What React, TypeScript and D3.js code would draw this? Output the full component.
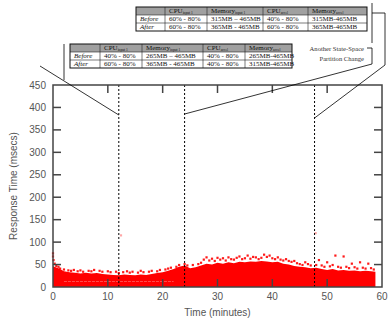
import React from "react";
import * as d3 from "d3";

// dense upper edge of the red scatter, one value per minute (msecs)
const minutes = d3.range(0, 60);
const envelope = [
  46, 42, 35, 33, 32, 30, 32, 30, 31, 29, 28, 27, 26, 28, 27, 26, 28, 27, 29, 31,
  33, 36, 40, 45, 48, 42, 44, 48, 52, 50, 54, 52, 55, 53, 56, 55, 57, 56, 58, 57,
  55, 56, 52, 50, 47, 45, 44, 42, 43, 40, 38, 40, 37, 38, 36, 37, 35, 36, 35, 34,
];
const lastMinute = 58.8;

// sparse points above the dense band [minute, msecs]
const outliers: [number, number][] = [
  [0, 75], [0, 68], [0.1, 60], [0.3, 52], [0.6, 47], [1, 45], [1.3, 41], [2, 39],
  [2.8, 37], [3.3, 36], [3.8, 38], [4.5, 35], [5, 37], [5.5, 34], [6.5, 36],
  [7, 35], [7.5, 38], [8.5, 36], [9, 34], [10, 35], [10.5, 33], [11.5, 34],
  [12, 31], [12.8, 33], [13.5, 35], [14, 32], [14.5, 34], [15.5, 32], [16, 36],
  [16.5, 33], [17.5, 34], [18, 36], [19, 35], [19.5, 38], [20.5, 39], [21, 41],
  [21.5, 43], [22.5, 45], [23, 49], [24, 51], [24.5, 48], [25.5, 49], [26.5, 51],
  [27, 54], [27.5, 61], [28, 66], [28.5, 59], [29, 63], [29.5, 58], [30, 65],
  [30.5, 61], [31, 64], [31.5, 59], [32, 66], [32.5, 62], [33, 61], [33.5, 65],
  [34, 68], [34.5, 62], [35, 64], [35.5, 70], [36, 63], [36.5, 67], [37, 66],
  [37.5, 62], [38, 65], [38.5, 72], [39, 67], [39.5, 70], [40, 64], [40.5, 62],
  [41, 66], [41.5, 61], [42, 59], [42.5, 62], [43, 58], [43.5, 56], [44, 58],
  [44.5, 53], [45, 51], [45.5, 49], [46, 55], [46.5, 51], [47, 48], [48, 49],
  [48.5, 60], [49, 48], [49.5, 45], [50, 55], [50.5, 46], [51, 49], [51.5, 70],
  [52, 45], [52.5, 43], [53, 68], [53.5, 45], [54, 42], [54.5, 52], [55, 44],
  [55.5, 41], [56, 55], [56.5, 43], [57, 41], [57.5, 52], [58, 42], [58.5, 39],
  [12.4, 115], [47.9, 120],
];

const changes = [12, 24, 47.7];
const xTicks = [0, 10, 20, 30, 40, 50, 60];
const yTicks = [0, 50, 100, 150, 200, 250, 300, 350, 400, 450];

const headers = ["", "CPU", "Memory", "CPU", "Memory"];
const subs = ["", "input 1", "input 1", "accel", "accel"];
const rowNames = ["Before", "After"];
const table1 = [
  ["60% - 80%", "315MB – 465MB", "40% - 80%", "315MB-465MB"],
  ["60% - 80%", "365MB - 465MB", "60% - 80%", "365MB-465MB"],
];
const table2 = [
  ["40% - 80%", "265MB – 465MB", "40% - 80%", "265MB-465MB"],
  ["60% - 80%", "365MB - 465MB", "40% - 80%", "315MB-465MB"],
];

const W = 390, H = 322;
const x = d3.scaleLinear().domain([0, 60]).range([53, 382]);
const y = d3.scaleLinear().domain([0, 450]).range([287, 85]);
const axisColor = "#444";
const sans = "'Liberation Sans', Arial, sans-serif";
const serif = "'Liberation Serif', 'Times New Roman', serif";

function Table({ left, top, cols, rows }: { left: number; top: number; cols: number[]; rows: string[][] }) {
  const rh = 8;
  const edges = [left, ...cols];
  const right = edges[edges.length - 1];
  return (
    <g fontFamily={serif} fontSize={7} fill="#111">
      <rect x={left} y={top} width={right - left} height={rh} fill="#a0a0a0" />
      {headers.map((h, i) =>
        i === 0 ? null : (
          <text key={i} x={edges[i] + 4} y={top + rh - 2}>
            {h}
            <tspan fontSize={3.6} dy={1.2}>{subs[i]}</tspan>
          </text>
        )
      )}
      {rows.map((r, j) => (
        <g key={j}>
          <text x={left + 4} y={top + rh * (j + 2) - 2} fontStyle="italic">{rowNames[j]}</text>
          {r.map((c, i) => (
            <text key={i} x={edges[i + 1] + 4} y={top + rh * (j + 2) - 2}>{c}</text>
          ))}
        </g>
      ))}
      {edges.slice(1, -1).map((e, i) => (
        <line key={i} x1={e} x2={e} y1={top} y2={top + rh * 3} stroke="#222" strokeWidth={0.6} />
      ))}
      {[1, 2].map((k) => (
        <line key={k} x1={left} x2={right} y1={top + rh * k} y2={top + rh * k} stroke="#222" strokeWidth={0.6} />
      ))}
      <rect x={left} y={top} width={right - left} height={rh * 3} fill="none" stroke="#111" strokeWidth={1} />
    </g>
  );
}

export default function App() {
  const area = d3
    .area<number>()
    .x((d, i) => x(Math.min(minutes[i], lastMinute)))
    .y0(y(0))
    .y1((d) => y(d))
    .curve(d3.curveLinear);
  const top = y(450), bottom = y(0), left = x(0), right = x(60);
  return (
    <svg width={W} height={H} style={{ position: "absolute", left: 0, top: 0, background: "#fff" }}>
      {/* scatter */}
      <path d={area(envelope) ?? ""} fill="#ff0000" />
      <line x1={x(2)} x2={x(22)} y1={y(12)} y2={y(12)} stroke="#ffc8c8" strokeWidth={0.7} strokeDasharray="3,1" opacity={0.6} />
      {outliers.map(([t, v], i) => (
        <rect key={i} x={x(t) - 1.1} y={y(v) - 1.1} width={2.2} height={2.2} fill="#f00" opacity={v > 100 ? 0.35 : 0.9} />
      ))}

      {/* change markers */}
      {changes.map((c) => (
        <line key={c} x1={x(c)} x2={x(c)} y1={top} y2={bottom} stroke="#000" strokeWidth={1} strokeDasharray="2,2" />
      ))}

      {/* frame + ticks */}
      <rect x={left} y={top} width={right - left} height={bottom - top} fill="none" stroke={axisColor} strokeWidth={1.5} />
      {yTicks.slice(1, -1).map((t) => (
        <g key={t}>
          <line x1={left} x2={left + 8} y1={y(t)} y2={y(t)} stroke={axisColor} strokeWidth={1.5} />
          <line x1={right - 8} x2={right} y1={y(t)} y2={y(t)} stroke={axisColor} strokeWidth={1.5} />
        </g>
      ))}
      {xTicks.slice(1, -1).map((t) => (
        <g key={t}>
          <line x1={x(t)} x2={x(t)} y1={bottom} y2={bottom - 8} stroke={axisColor} strokeWidth={1.5} />
          <line x1={x(t)} x2={x(t)} y1={top} y2={top + 8} stroke={axisColor} strokeWidth={1.5} />
        </g>
      ))}
      <g fontFamily={sans} fontSize={10} fill="#555">
        {yTicks.map((t) => (
          <text key={t} x={left - 7} y={y(t) + 3.5} textAnchor="end">{t}</text>
        ))}
        {xTicks.map((t) => (
          <text key={t} x={x(t)} y={bottom + 13} textAnchor="middle">{t}</text>
        ))}
        <text x={(left + right) / 2} y={316} textAnchor="middle">Time (minutes)</text>
        <text transform={`translate(17,${(top + bottom) / 2}) rotate(-90)`} textAnchor="middle">Response Time (msecs)</text>
      </g>

      {/* annotations */}
      <Table left={136} top={7} cols={[165, 207, 263, 308, 367]} rows={table1} />
      <Table left={70} top={44} cols={[100, 142, 203, 245, 292]} rows={table2} />
      <g stroke="#000" strokeWidth={0.8} fill="none">
        <line x1={64} x2={64} y1={44} y2={80} />
        <line x1={40} y1={66} x2={x(12)} y2={115} />
        <line x1={372} x2={372} y1={3} y2={43} />
        <polyline points={`372,13 385,13 385,65 ${x(47.7)},118`} />
        <polyline points={`367,48 372,48 372,64 ${x(24)},114`} />
      </g>
      <g fontFamily={serif} fontSize={6.6} fill="#333" textAnchor="end">
        <text x={364} y={51}>Another State-Space</text>
        <text x={364} y={61}>Partition Change</text>
      </g>
    </svg>
  );
}
